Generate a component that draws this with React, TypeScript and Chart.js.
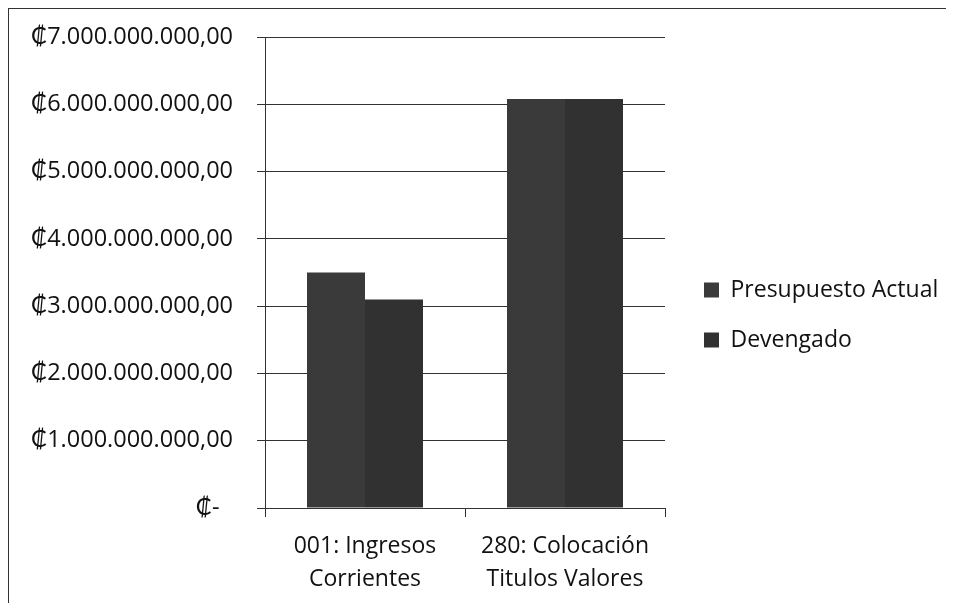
import React, { useEffect, useRef } from "react";
import { Chart, registerables } from "chart.js";

Chart.register(...registerables);

const categories: string[][] = [
  ["001: Ingresos", "Corrientes"],
  ["280: Colocación", "Titulos Valores"],
];
const seriesNames = ["Presupuesto Actual", "Devengado"];
const presupuestoActual = [3500000000, 6080000000];
const devengado = [3100000000, 6080000000];
const yTicks = [0, 1000000000, 2000000000, 3000000000, 4000000000, 5000000000, 6000000000, 7000000000];

const CANVAS_W = 968;
const CANVAS_H = 594;
const PAD_BOTTOM = 10;
const FONT = "'Open Sans', Lato, 'DejaVu Sans', sans-serif";
const LINE = "#333333";

function fmt(v: number): string {
  if (v === 0) return "₡-\u2007";
  const s = Math.round(v).toString().replace(/\B(?=(\d{3})+(?!\d))/g, ".");
  return "₡" + s + ",00";
}

const legendWidthPlugin = {
  id: "legendWidth",
  beforeLayout(chart: any) {
    const lg = chart.legend;
    if (lg && !lg.__wrapped) {
      const orig = lg.fit.bind(lg);
      lg.fit = function () {
        orig();
        this.width = 300;
      };
      lg.__wrapped = true;
    }
  },
};

function zeroPad(scale: any) {
  scale.paddingTop = 0;
  scale.paddingBottom = 0;
  scale.paddingLeft = 0;
  scale.paddingRight = 0;
}

export default function App() {
  const ref = useRef<HTMLCanvasElement | null>(null);
  useEffect(() => {
    if (!ref.current) return;
    const chart = new Chart(ref.current, {
      type: "bar",
      data: {
        labels: categories,
        datasets: [
          {
            label: seriesNames[0],
            data: presupuestoActual,
            backgroundColor: "#3a3a3a",
            borderWidth: 0,
            categoryPercentage: 0.58,
            barPercentage: 1,
          },
          {
            label: seriesNames[1],
            data: devengado,
            backgroundColor: "#313131",
            borderWidth: 0,
            categoryPercentage: 0.58,
            barPercentage: 1,
          },
        ],
      },
      options: {
        responsive: false,
        animation: false,
        layout: { padding: { top: 28, left: 0, right: 0, bottom: PAD_BOTTOM } },
        plugins: {
          tooltip: { enabled: false },
          legend: {
            position: "right",
            align: "center",
            labels: {
              boxWidth: 15,
              boxHeight: 15,
              padding: 27,
              color: "#111",
              font: { family: FONT, size: 23 },
            },
          },
        },
        scales: {
          x: {
            grid: {
              offset: true,
              drawOnChartArea: false,
              tickLength: 9,
              color: LINE,
            },
            border: { display: true, color: LINE },
            ticks: {
              padding: 13,
              color: "#111",
              font: { family: FONT, size: 23, lineHeight: 1.43 },
              maxRotation: 0,
              autoSkip: false,
            },
            afterFit(scale: any) {
              scale.height = CANVAS_H - PAD_BOTTOM - 499;
              zeroPad(scale);
            },
          },
          y: {
            min: 0,
            max: 7000000000,
            afterBuildTicks(scale: any) {
              scale.ticks = yTicks.map((v) => ({ value: v }));
            },
            grid: { color: LINE, tickLength: 8 },
            border: { display: true, color: LINE },
            ticks: {
              padding: 24,
              color: "#111",
              font: { family: FONT, size: 23.5 },
              callback: (v: any) => fmt(Number(v)),
            },
            afterFit(scale: any) {
              scale.width = 256;
              zeroPad(scale);
            },
          },
          gap: {
            type: "linear",
            position: "right",
            display: true,
            grid: { display: false, drawTicks: false },
            border: { display: false },
            ticks: { display: false },
            afterFit(scale: any) {
              scale.width = 12;
              zeroPad(scale);
            },
          },
        },
      },
      plugins: [legendWidthPlugin],
    } as any);
    return () => chart.destroy();
  }, []);
  return (
    <div
      style={{
        width: 937,
        height: CANVAS_H,
        overflow: "hidden",
        borderTop: "1px solid #333",
        borderLeft: "1px solid #333",
        background: "#fff",
      }}
    >
      <canvas ref={ref} width={CANVAS_W} height={CANVAS_H} style={{ display: "block" }} />
    </div>
  );
}
